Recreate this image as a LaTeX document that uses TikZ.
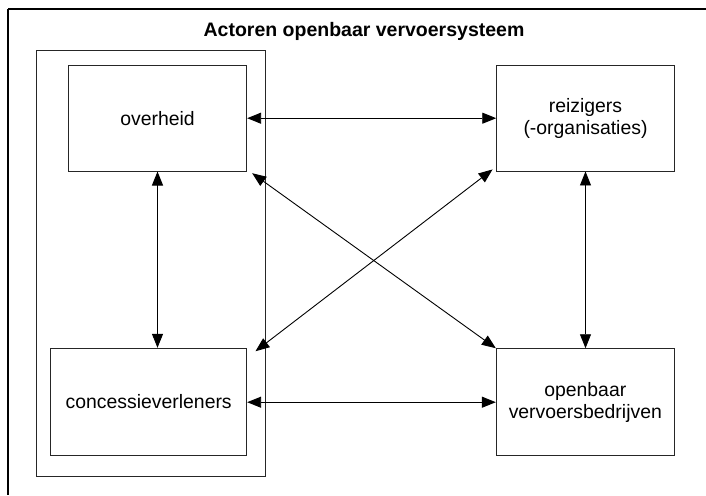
\documentclass[tikz,border=0pt]{standalone}
\usepackage{fontspec}
\setmainfont{Liberation Sans}
\usetikzlibrary{arrows.meta,calc}
\begin{document}
\begin{tikzpicture}[x=1pt,y=-1pt,
  actor/.style={draw=black!85,line width=0.9pt,rectangle,inner sep=0pt,
    align=center,font=\fontsize{19.4}{22}\selectfont},
  link/.style={line width=0.9pt,{Triangle[length=14pt,width=11pt]}-{Triangle[length=14pt,width=11pt]}}]
  \useasboundingbox (0,0) rectangle (706,495);
  % open outer frame: top and left edges only
  \coordinate (frameTR) at (706,9);
  \coordinate (frameTL) at (8,9);
  \coordinate (frameBL) at (8,495);
  \draw[line width=2.2pt] (frameTR) -- (frameTL);
  \draw[line width=1.4pt] (frameTL) -- (frameBL);
  \node[font=\bfseries\fontsize{19.5}{22}\selectfont] (title) at (364,31) {Actoren openbaar vervoersysteem};
  % government side container
  \draw[draw=black!85,line width=0.9pt] (36,50.7) rectangle (265,476.7);
  % actors
  \node[actor,minimum width=178.4pt,minimum height=105.7pt] (ov) at (157.5,118.2) {overheid};
  \node[actor,minimum width=196pt,minimum height=107.4pt] (ce) at (148.7,402) {concessieverleners};
  \node[actor,minimum width=177.6pt,minimum height=106pt] (re) at (585.5,118) {reizigers\\(-organisaties)};
  \node[actor,minimum width=178pt,minimum height=107pt] (ob) at (585.3,402.2) {openbaar\\vervoersbedrijven};
  % relations
  \draw[link] (ov.east) -- (ov.east -| re.west);
  \draw[link] (ce.east |- ob.west) -- (ob.west);
  \draw[link] (ov.south) -- (ov.south |- ce.north);
  \draw[link] (re.south) -- (re.south |- ob.north);
  \draw[link] ($(ov.south east)+(5,1.7)$) -- (ob.north west);
  \draw[link] ($(re.south west)+(-3.7,-2)$) -- ($(ce.north east)+(8.3,3.4)$);
\end{tikzpicture}
\end{document}
